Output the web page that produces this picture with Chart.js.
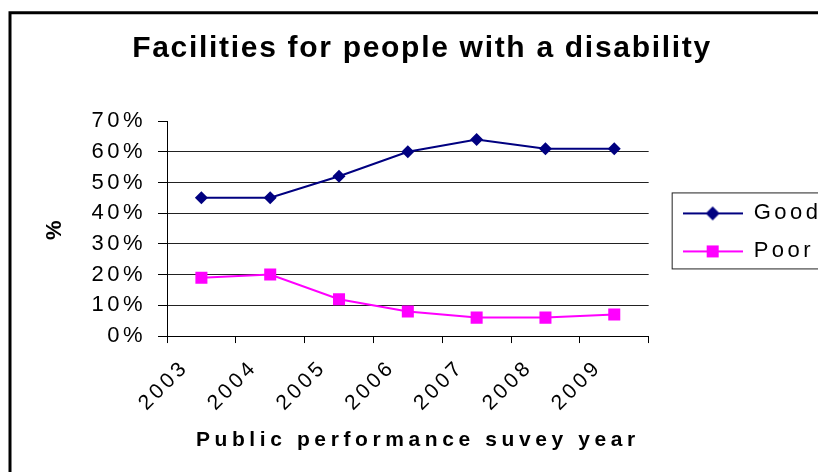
<!DOCTYPE html>
<html lang="en">
<head>
<meta charset="UTF-8">
<script src="https://cdn.jsdelivr.net/npm/chart.js"></script>
<title>Facilities for people with a disability</title>
<style>
  html, body { margin: 0; padding: 0; background: #fff; overflow: hidden; }
  #box { width: 818px; height: 472px; }
</style>
</head>
<body>
<div id="box"><canvas id="mychart"></canvas></div>
<script>
// data (percent)
const years = ['2003', '2004', '2005', '2006', '2007', '2008', '2009'];
const good = [45, 45, 52, 60, 64, 61, 61];
const poor = [19, 20, 12, 8, 6, 6, 7];
const yTicks = [0, 10, 20, 30, 40, 50, 60, 70];

const NAVY = '#000080';
const PINK = '#FF00FF';

Chart.defaults.font.family = '"Liberation Sans", Arial, sans-serif';
Chart.defaults.color = '#000';

// line + marker sample for the legend
function legendIcon(color, shape) {
    const c = document.createElement('canvas');
    c.width = 60; c.height = 16;
    const g = c.getContext('2d');
    g.strokeStyle = color; g.fillStyle = color; g.lineWidth = 2;
    g.beginPath(); g.moveTo(0, 8); g.lineTo(60, 8); g.stroke();
    if (shape === 'diamond') {
        g.beginPath(); g.moveTo(23, 8); g.lineTo(30, 1); g.lineTo(37, 8); g.lineTo(30, 15); g.closePath(); g.fill();
    } else {
        g.fillRect(24, 2, 12, 12);
    }
    return c;
}
const icons = [legendIcon(NAVY, 'diamond'), legendIcon(PINK, 'square')];

// excel-ish wide text
function wrapSpacing(obj, fn, sp, dx) {
    if (!obj || obj['_sp_' + fn]) return;
    const orig = obj[fn];
    obj[fn] = function () {
        const ctx = this.ctx;
        const old = ctx.letterSpacing;
        ctx.save();
        ctx.translate(dx || 0, 0);
        ctx.letterSpacing = sp;
        orig.apply(this, arguments);
        ctx.restore();
        ctx.letterSpacing = old;
    };
    obj['_sp_' + fn] = true;
}
const spacing = {
    id: 'spacing',
    beforeUpdate(chart) { chart.ctx.letterSpacing = '3.5px'; },
    beforeLayout(chart) {
        chart.ctx.letterSpacing = '3.5px';
        // legend box runs off the right edge like in the original
        const lg = chart.legend;
        if (lg && !lg._wideFit) {
            const fit = lg.fit;
            lg.fit = function () { fit.call(this); this.width += 20; };
            lg._wideFit = true;
        }
    },
    beforeDraw(chart) {
        chart.ctx.letterSpacing = '3.5px';
        wrapSpacing(chart.titleBlock, 'draw', '1.7px', 6);
        wrapSpacing(chart.scales.x, 'drawTitle', '4.6px', 10);
    }
};

// outer chart frame + legend box
const frames = {
    id: 'frames',
    afterDraw(chart) {
        const ctx = chart.ctx;
        ctx.save();
        ctx.strokeStyle = '#000';
        ctx.lineWidth = 3;
        ctx.beginPath();
        ctx.moveTo(10, chart.height); ctx.lineTo(10, 12.8); ctx.lineTo(chart.width, 12.8);
        ctx.stroke();
        const hb = chart.legend.legendHitBoxes;
        if (hb && hb.length) {
            const top = hb[0].top - 10;
            const last = hb[hb.length - 1];
            const bottom = last.top + last.height + 6;
            ctx.lineWidth = 1;
            ctx.strokeStyle = '#222';
            ctx.strokeRect(hb[0].left - 11 + 0.5, top + 0.5, chart.width, bottom - top);
        }
        ctx.restore();
    }
};

const ctx = document.getElementById('mychart').getContext('2d');
const chart = new Chart(ctx, {
    type: 'line',
    data: {
        labels: years,
        datasets: [
            {
                label: 'Good',
                data: good,
                borderColor: NAVY,
                backgroundColor: NAVY,
                borderWidth: 2,
                pointStyle: 'rectRot',
                pointRadius: 6.5,
                pointBorderWidth: 0,
                tension: 0
            },
            {
                label: 'Poor',
                data: poor,
                borderColor: PINK,
                backgroundColor: PINK,
                borderWidth: 2,
                pointStyle: 'rect',
                pointRadius: 8.5,
                pointBorderWidth: 0,
                tension: 0
            }
        ]
    },
    options: {
        responsive: true,
        maintainAspectRatio: false,
        animation: false,
        layout: { padding: { left: 10, top: 0, right: -4, bottom: 0 } },
        plugins: {
            title: {
                display: true,
                text: 'Facilities for people with a disability',
                color: '#000',
                font: { size: 30, weight: 'bold' },
                padding: { top: 30.5, bottom: 54.5 }
            },
            legend: {
                position: 'right',
                fullSize: false,
                title: { display: true, text: '', font: { size: 6.5 }, padding: 0 },
                labels: {
                    usePointStyle: true,
                    pointStyleWidth: 60,
                    padding: 16,
                    color: '#000',
                    font: { size: 22 },
                    generateLabels(ch) {
                        return ch.data.datasets.map((ds, i) => ({
                            text: ds.label,
                            pointStyle: icons[i],
                            fillStyle: ds.borderColor,
                            strokeStyle: ds.borderColor,
                            lineWidth: 0,
                            hidden: false,
                            datasetIndex: i
                        }));
                    }
                }
            },
            tooltip: { enabled: false }
        },
        scales: {
            x: {
                offset: true,
                grid: { offset: true, drawOnChartArea: false, tickLength: 7, color: '#000' },
                border: { color: '#000', width: 1 },
                ticks: {
                    autoSkip: false,
                    minRotation: 45,
                    maxRotation: 45,
                    color: '#000',
                    font: { size: 21 },
                    padding: 12,
                    labelOffset: -16
                },
                title: {
                    display: true,
                    text: 'Public performance suvey year',
                    color: '#000',
                    font: { size: 21, weight: 'bold' },
                    padding: { top: 0, bottom: 19 }
                }
            },
            y: {
                min: 0,
                max: 70,
                afterBuildTicks(s) { s.ticks = yTicks.map(v => ({ value: v })); },
                afterFit(s) { s.width = 157; },
                ticks: {
                    color: '#000',
                    font: { size: 22 },
                    padding: 12,
                    callback: v => v + '%'
                },
                grid: {
                    color: c => (c.tick && c.tick.value === 70) ? 'rgba(0,0,0,0)' : '#222',
                    tickColor: '#000',
                    tickLength: 9,
                    lineWidth: 1
                },
                border: { color: '#000', width: 1 },
                title: {
                    display: true,
                    text: '%',
                    color: '#000',
                    font: { size: 22, weight: 'bold' },
                    padding: { top: 32, bottom: 20 }
                }
            },
            y2: {
                position: 'right',
                display: true,
                grid: { display: false, drawTicks: false },
                border: { display: false },
                ticks: { display: false },
                afterFit(s) { s.width = 18; }
            }
        }
    },
    plugins: [spacing, frames]
});
</script>
</body>
</html>
